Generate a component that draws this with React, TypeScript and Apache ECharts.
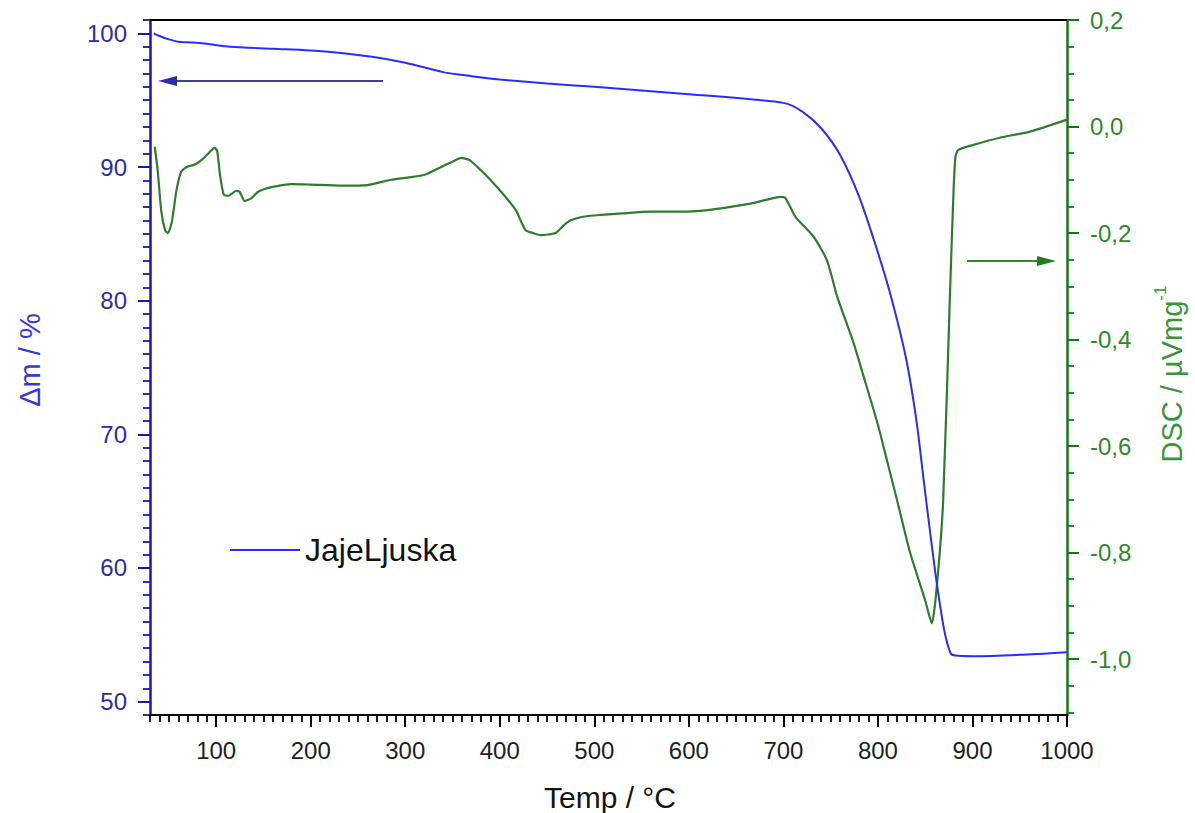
import React, { useEffect, useRef } from "react";
import * as echarts from "echarts";

// ---- Data ----
const TG_TEMP = [34, 40, 50, 60, 75, 90, 115, 160, 215, 265, 300, 340, 370, 400, 450, 500, 600, 700, 720, 740, 760, 780, 800, 815, 830, 841, 848, 855, 862, 870, 877, 882, 900, 950, 1000];
const TG_MASS = [100.0, 99.8, 99.55, 99.38, 99.32, 99.22, 99.0, 98.85, 98.65, 98.25, 97.8, 97.1, 96.8, 96.55, 96.25, 96.0, 95.45, 94.8, 94.15, 92.9, 90.9, 87.8, 83.6, 80.0, 75.6, 70.9, 66.8, 62.8, 59.0, 55.4, 53.6, 53.45, 53.4, 53.5, 53.7];

const DSC_TEMP = [35, 38, 42, 46, 49, 53, 58, 63, 70, 77, 85, 92, 98, 101, 104, 108, 113, 121, 125, 130, 137, 144, 152, 161, 179, 200, 232, 260, 285, 320, 338, 350, 359, 368, 380, 390, 405, 417, 427, 435, 443, 459, 468, 475, 490, 507, 530, 560, 591, 620, 644, 670, 697, 702, 713, 732, 746, 757, 765, 774, 785, 800, 810, 820, 834, 850, 857, 862, 869, 876, 880, 882, 885, 900, 929, 960, 1000];
const DSC_VALUE = [-0.038, -0.08, -0.16, -0.195, -0.2, -0.18, -0.12, -0.085, -0.075, -0.072, -0.062, -0.05, -0.04, -0.045, -0.09, -0.128, -0.13, -0.121, -0.123, -0.14, -0.135, -0.123, -0.117, -0.113, -0.108, -0.109, -0.111, -0.11, -0.1, -0.091, -0.076, -0.066, -0.059, -0.063, -0.082, -0.1, -0.13, -0.157, -0.194, -0.2, -0.204, -0.2, -0.185, -0.176, -0.169, -0.166, -0.163, -0.16, -0.16, -0.157, -0.151, -0.143, -0.132, -0.134, -0.17, -0.207, -0.251, -0.32, -0.36, -0.405, -0.47, -0.56, -0.63, -0.7, -0.8, -0.89, -0.933, -0.869, -0.703, -0.326, -0.12, -0.057, -0.044, -0.035, -0.021, -0.01, 0.013];

const X_MAJOR = [100, 200, 300, 400, 500, 600, 700, 800, 900, 1000];
const LEFT_MAJOR = [50, 60, 70, 80, 90, 100];
const RIGHT_MAJOR = [-1.0, -0.8, -0.6, -0.4, -0.2, 0.0, 0.2];

const SERIES_NAME = "JajeLjuska";
const X_TITLE = "Temp / °C";
const LEFT_TITLE = "Δm / %";
const RIGHT_TITLE_MAIN = "DSC / µVmg";
const RIGHT_TITLE_SUP = "-1";

function steps(a: number, b: number, step: number, dec: number): number[] {
  const out: number[] = [];
  const n = Math.round((b - a) / step);
  for (let i = 0; i <= n; i++) out.push(+(a + i * step).toFixed(dec));
  return out;
}
const X_MINOR = steps(30, 1000, 10, 0);
const LEFT_MINOR = steps(49, 101, 1, 0);
const RIGHT_MINOR = steps(-1.1, 0.2, 0.05, 2);

const FONT = '"Liberation Sans", Arial, Helvetica, sans-serif';
const BLUE_AX = "#1a1aa2";
const BLUE_LBL = "#2e2e9e";
const GREEN_AX = "#137a13";
const GREEN_LBL = "#2b8a2b";
const TG_COLOR = "#2d2df2";
const DSC_COLOR = "#2e7d2e";

export default function App() {
  const ref = useRef<HTMLDivElement>(null);

  useEffect(() => {
    if (!ref.current) return;
    const chart = echarts.init(ref.current, undefined, { renderer: "svg" });

    const xMin = 30, xMax = 1000;
    const lMin = 49, lMax = 101;
    const rMin = -1.105, rMax = 0.2;

    const noSplit = { show: false };

    const option: any = {
      animation: false,
      backgroundColor: "#ffffff",
      grid: { left: 150, right: 128, top: 20, bottom: 98, containLabel: false },
      legend: {
        data: [SERIES_NAME],
        left: 230,
        top: 534,
        padding: 0,
        icon: "rect",
        itemWidth: 70,
        itemHeight: 2,
        selectedMode: false,
        textStyle: { fontSize: 32, color: "#111111", fontFamily: FONT },
      },
      xAxis: [
        {
          type: "value", min: xMin, max: xMax, position: "bottom",
          axisLine: { show: true, onZero: false, lineStyle: { color: "#000", width: 2 } },
          axisTick: { show: true, customValues: X_MAJOR, length: 12, lineStyle: { color: "#000", width: 2 } },
          axisLabel: {
            customValues: X_MAJOR, margin: 23, fontSize: 24, color: "#1e1e1e", fontFamily: FONT,
            formatter: (v: number) => String(v),
          },
          splitLine: noSplit,
        },
        {
          type: "value", min: xMin, max: xMax, position: "bottom",
          axisLine: { show: false, onZero: false },
          axisTick: { show: true, customValues: X_MINOR, length: 7, lineStyle: { color: "#000", width: 1.8 } },
          axisLabel: { show: false },
          splitLine: noSplit,
        },
        {
          type: "value", min: xMin, max: xMax, position: "top",
          axisLine: { show: true, onZero: false, lineStyle: { color: "#000", width: 2 } },
          axisTick: { show: false },
          axisLabel: { show: false },
          splitLine: noSplit,
        },
      ],
      yAxis: [
        {
          type: "value", min: lMin, max: lMax, position: "left",
          axisLine: { show: true, onZero: false, lineStyle: { color: BLUE_AX, width: 2.5 } },
          axisTick: { show: true, customValues: LEFT_MAJOR, length: 12, lineStyle: { color: BLUE_AX, width: 2 } },
          axisLabel: {
            customValues: LEFT_MAJOR, margin: 23, fontSize: 24, color: BLUE_LBL, fontFamily: FONT,
            formatter: (v: number) => String(v),
          },
          splitLine: noSplit,
        },
        {
          type: "value", min: rMin, max: rMax, position: "right",
          axisLine: { show: true, onZero: false, lineStyle: { color: GREEN_AX, width: 2.5 } },
          axisTick: { show: true, customValues: RIGHT_MAJOR, length: 12, lineStyle: { color: GREEN_AX, width: 2 } },
          axisLabel: {
            customValues: RIGHT_MAJOR, margin: 23, fontSize: 24, color: GREEN_LBL, fontFamily: FONT,
            formatter: (v: number) => v.toFixed(1).replace(".", ",").replace("-0,0", "0,0"),
          },
          splitLine: noSplit,
        },
        {
          type: "value", min: lMin, max: lMax, position: "left",
          axisLine: { show: false, onZero: false },
          axisTick: { show: true, customValues: LEFT_MINOR, length: 7, lineStyle: { color: BLUE_AX, width: 1.8 } },
          axisLabel: { show: false },
          splitLine: noSplit,
        },
        {
          type: "value", min: rMin, max: rMax, position: "right",
          axisLine: { show: false, onZero: false },
          axisTick: { show: true, customValues: RIGHT_MINOR, length: 7, lineStyle: { color: GREEN_AX, width: 1.8 } },
          axisLabel: { show: false },
          splitLine: noSplit,
        },
      ],
      series: [
        {
          name: SERIES_NAME,
          type: "line",
          xAxisIndex: 0,
          yAxisIndex: 0,
          data: TG_TEMP.map((t, i) => [t, TG_MASS[i]]),
          showSymbol: false,
          smooth: 0.25,
          lineStyle: { color: TG_COLOR, width: 2 },
          itemStyle: { color: TG_COLOR },
          z: 3,
        },
        {
          name: "DSC",
          type: "line",
          xAxisIndex: 0,
          yAxisIndex: 1,
          data: DSC_TEMP.map((t, i) => [t, DSC_VALUE[i]]),
          showSymbol: false,
          smooth: 0.2,
          lineStyle: { color: DSC_COLOR, width: 2.2 },
          itemStyle: { color: DSC_COLOR },
          z: 2,
        },
      ],
      graphic: [
        // Axis titles
        {
          type: "text", x: 610, y: 797,
          style: { text: X_TITLE, fontSize: 30, fontFamily: FONT, fill: "#141414", align: "center", verticalAlign: "middle" },
        },
        {
          type: "text", x: 30, y: 360, rotation: Math.PI / 2,
          style: { text: LEFT_TITLE, fontSize: 29, fontFamily: FONT, fill: "#3a3ad0", align: "center", verticalAlign: "middle" },
        },
        {
          type: "text", x: 1172, y: 374, rotation: Math.PI / 2,
          style: {
            text: "{a|" + RIGHT_TITLE_MAIN + "}{s|" + RIGHT_TITLE_SUP + "}",
            align: "center", verticalAlign: "middle",
            rich: {
              a: { fontSize: 29, fontFamily: FONT, fill: "#3a963a", lineHeight: 40, verticalAlign: "middle" },
              s: { fontSize: 17, fontFamily: FONT, fill: "#3a963a", lineHeight: 20, verticalAlign: "top" },
            },
          },
        },
        // Arrow pointing to the left axis (TG)
        {
          type: "line",
          shape: { x1: 383, y1: 81, x2: 175, y2: 81 },
          style: { stroke: "#3c3cae", lineWidth: 2 },
        },
        {
          type: "polygon",
          shape: { points: [[158, 81], [177, 76], [177, 86]] },
          style: { fill: "#2c2ca6" },
        },
        // Arrow pointing to the right axis (DSC)
        {
          type: "line",
          shape: { x1: 967, y1: 261, x2: 1040, y2: 261 },
          style: { stroke: "#2a8a2a", lineWidth: 2 },
        },
        {
          type: "polygon",
          shape: { points: [[1056, 261], [1037, 256], [1037, 266]] },
          style: { fill: "#1f7f1f" },
        },
      ],
    };

    chart.setOption(option);
    return () => chart.dispose();
  }, []);

  return (
    <div
      ref={ref}
      style={{ position: "fixed", left: 0, top: 0, width: 1195, height: 813, background: "#fff" }}
    />
  );
}
